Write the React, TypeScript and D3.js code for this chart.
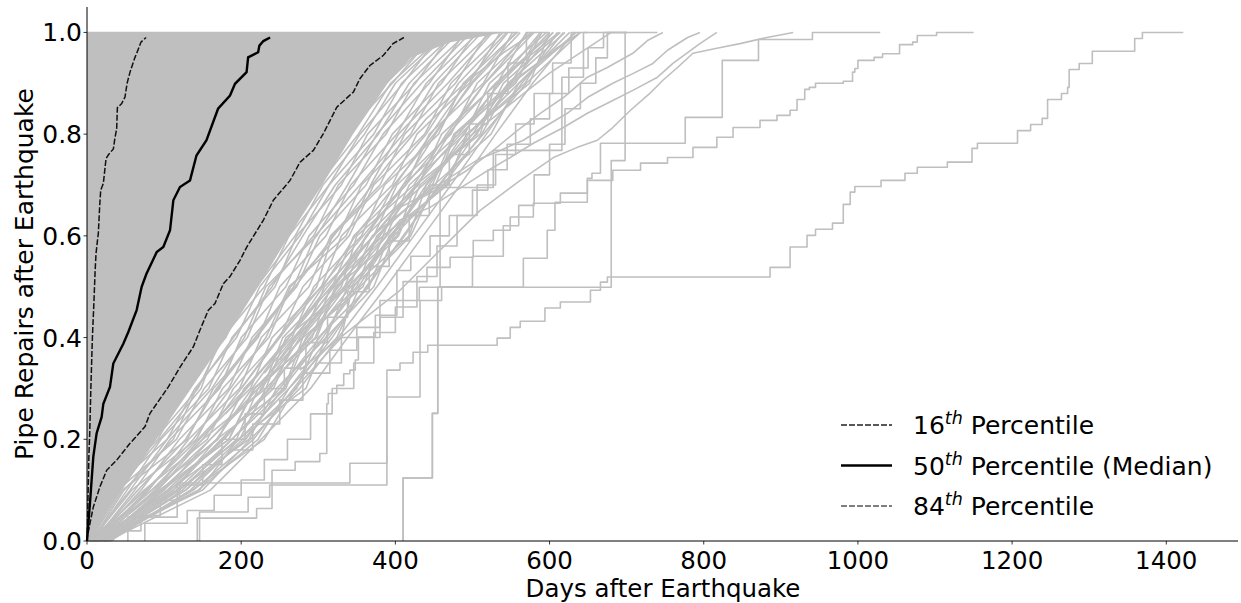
import React from 'react';
import * as d3 from 'd3';

type Pt = [number, number];

// fraction levels at which the dense "mesh" realisations are sampled
const LEVELS = [0, 0.1, 0.2, 0.3, 0.4, 0.5, 0.6, 0.7, 0.8, 0.9, 1.0];

// days at which each dense realisation reaches LEVELS
const meshDays: number[][] = [
  [1, 18, 62, 104, 156, 186, 232, 268, 318, 372, 425],
  [0, 30, 70, 122, 150, 196, 228, 286, 322, 378, 440],
  [3, 16, 80, 118, 168, 204, 244, 280, 338, 384, 446],
  [2, 36, 76, 132, 164, 214, 254, 298, 336, 396, 452],
  [5, 24, 92, 128, 180, 210, 262, 300, 352, 394, 466],
  [0, 44, 88, 144, 176, 230, 262, 314, 354, 410, 460],
  [4, 30, 104, 140, 194, 224, 276, 314, 372, 408, 478],
  [7, 52, 96, 158, 188, 244, 272, 330, 364, 426, 474],
  [2, 40, 116, 152, 208, 236, 294, 326, 388, 424, 494],
  [9, 62, 108, 172, 200, 258, 288, 346, 384, 444, 490],
  [3, 46, 130, 164, 222, 250, 310, 342, 402, 440, 508],
  [11, 70, 120, 184, 214, 272, 302, 362, 396, 460, 504],
  [5, 58, 142, 176, 236, 264, 326, 356, 420, 456, 524],
  [14, 80, 132, 198, 226, 288, 316, 380, 412, 478, 520],
  [6, 74, 156, 190, 250, 280, 340, 372, 438, 472, 540],
  [16, 88, 146, 212, 240, 304, 330, 396, 428, 496, 536],
  [8, 84, 170, 204, 266, 294, 356, 386, 456, 488, 558],
  [19, 100, 160, 228, 254, 318, 346, 414, 444, 514, 552],
  [10, 94, 184, 218, 280, 308, 372, 402, 472, 506, 576],
  [22, 112, 174, 242, 270, 334, 362, 430, 460, 532, 570],
  [12, 106, 198, 232, 296, 322, 388, 418, 490, 522, 596],
  [25, 124, 188, 258, 284, 350, 376, 448, 476, 550, 588],
  [14, 118, 210, 246, 310, 338, 404, 432, 506, 540, 614],
  [28, 134, 202, 272, 300, 366, 392, 466, 494, 568, 610],
  [16, 144, 222, 262, 324, 354, 420, 450, 524, 560, 634],
  [0, 20, 66, 114, 146, 192, 238, 276, 328, 370, 432],
  [2, 28, 84, 120, 176, 200, 248, 292, 330, 388, 456],
  [4, 40, 94, 148, 172, 220, 270, 306, 360, 400, 470],
  [6, 48, 112, 142, 190, 240, 280, 322, 378, 418, 482],
  [3, 56, 104, 162, 204, 232, 298, 338, 376, 434, 498],
  [8, 66, 128, 168, 218, 268, 296, 354, 410, 450, 512],
  [12, 78, 138, 186, 232, 262, 336, 368, 404, 468, 526],
  [5, 92, 150, 200, 248, 298, 318, 384, 440, 482, 544],
  [18, 96, 168, 214, 262, 312, 364, 398, 450, 500, 562],
  [10, 108, 178, 236, 276, 330, 350, 424, 466, 516, 580],
  [20, 120, 194, 222, 292, 316, 384, 410, 482, 536, 600],
  [13, 128, 206, 254, 306, 346, 396, 440, 500, 546, 620],
  [24, 138, 216, 268, 318, 362, 412, 456, 514, 570, 640],
  [6, 90, 160, 222, 270, 320, 362, 410, 452, 498, 556],
  [15, 104, 176, 238, 286, 336, 380, 428, 470, 516, 572],
  [9, 116, 188, 250, 302, 352, 396, 444, 488, 534, 588],
  [21, 128, 198, 262, 314, 364, 410, 458, 504, 550, 604],
  [11, 150, 212, 276, 326, 376, 424, 472, 518, 564, 618],
  [26, 160, 226, 290, 338, 388, 436, 484, 530, 578, 632],
  [4, 84, 150, 232, 258, 340, 370, 452, 478, 556, 590],
  [18, 98, 184, 216, 298, 324, 402, 426, 510, 530, 612],
  [7, 112, 168, 256, 280, 358, 384, 468, 492, 574, 600],
  [30, 136, 230, 270, 330, 344, 418, 440, 494, 560, 626],
  [2, 76, 144, 206, 262, 306, 348, 400, 446, 492, 546],
  [23, 146, 196, 284, 310, 372, 398, 462, 512, 548, 640],
];

// slanted realisations beyond the dense band (day, fraction)
const fanCurves: Pt[][] = [
  [[276, 0.375], [328, 0.473], [380, 0.572], [428, 0.67], [458, 0.695], [493, 0.729], [527, 0.768], [558, 0.807], [588, 0.841], [618, 0.872], [649, 0.912], [675, 0.931], [708, 0.959], [727, 0.984], [747, 1.0]],
  [[250, 0.356], [302, 0.454], [354, 0.552], [406, 0.656], [441, 0.684], [471, 0.715], [506, 0.749], [536, 0.768], [566, 0.788], [592, 0.813], [623, 0.841], [649, 0.872], [682, 0.9], [708, 0.919], [734, 0.939], [753, 0.965], [779, 0.99], [795, 1.0]],
  [[224, 0.297], [276, 0.395], [341, 0.513], [406, 0.631], [445, 0.656], [480, 0.69], [514, 0.723], [549, 0.754], [579, 0.782], [618, 0.813], [649, 0.841], [682, 0.866], [708, 0.886], [740, 0.912], [760, 0.939], [795, 0.978], [817, 1.0]],
  [[276, 0.336], [341, 0.415], [406, 0.493], [458, 0.572], [510, 0.65], [562, 0.709], [605, 0.754], [636, 0.774], [662, 0.788], [682, 0.813], [705, 0.847], [730, 0.88], [747, 0.906], [766, 0.931], [786, 0.959], [817, 0.969], [847, 0.978], [882, 0.99], [916, 1.0]],
  [[200, 0.3], [260, 0.42], [320, 0.53], [380, 0.64], [430, 0.73], [480, 0.82], [530, 0.9], [575, 0.96], [605, 1.0]],
  [[180, 0.25], [240, 0.36], [300, 0.47], [360, 0.58], [410, 0.67], [460, 0.76], [510, 0.84], [560, 0.91], [610, 0.97], [640, 1.0]],
  [[230, 0.33], [290, 0.44], [350, 0.56], [400, 0.65], [450, 0.72], [500, 0.8], [550, 0.86], [600, 0.92], [650, 0.97], [680, 1.0]],
  [[160, 0.28], [220, 0.4], [280, 0.52], [340, 0.64], [390, 0.74], [440, 0.83], [490, 0.9], [540, 0.96], [580, 1.0]],
];

// realisations with few, large repair steps (step-after points: day, fraction)
const stepCurves: Pt[][] = [
  [[146, 0], [146, 0.057], [209, 0.086], [237, 0.11], [389, 0.336], [406, 0.35], [423, 0.371], [442, 0.385], [532, 0.399], [549, 0.42], [562, 0.432], [594, 0.458], [614, 0.47], [653, 0.493], [666, 0.509], [675, 0.519], [886, 0.538], [912, 0.578], [934, 0.601], [945, 0.613], [967, 0.625], [981, 0.662], [990, 0.686], [996, 0.697], [1030, 0.709], [1061, 0.723], [1077, 0.735], [1116, 0.745], [1148, 0.772], [1155, 0.782], [1207, 0.807], [1224, 0.819], [1239, 0.831], [1246, 0.868], [1264, 0.88], [1272, 0.892], [1274, 0.927], [1287, 0.939], [1304, 0.963], [1359, 0.988], [1369, 1.0], [1422, 1.0]],
  [[186, 0.179], [215, 0.23], [250, 0.277], [280, 0.33], [315, 0.375], [350, 0.42], [380, 0.473], [410, 0.51], [441, 0.538], [471, 0.558], [501, 0.591], [527, 0.611], [549, 0.637], [579, 0.664], [614, 0.684], [649, 0.709], [682, 0.729], [718, 0.743], [753, 0.754], [786, 0.774], [817, 0.794], [838, 0.813], [873, 0.827], [895, 0.837], [912, 0.847], [921, 0.868], [931, 0.888], [937, 0.892], [945, 0.9], [981, 0.904], [993, 0.922], [996, 0.929], [1000, 0.945], [1021, 0.951], [1032, 0.958], [1054, 0.976], [1071, 0.981], [1077, 0.994], [1102, 1.0], [1150, 1.0]],
  [[410, 0], [410, 0.124], [448, 0.251], [455, 0.499], [566, 0.556], [597, 0.611], [607, 0.666], [649, 0.713], [655, 0.723], [666, 0.782], [776, 0.833], [824, 0.945], [871, 0.986], [941, 1.0], [1029, 1.0]],
  [[410, 0], [410, 0.124], [448, 0.251], [455, 0.499], [680, 0.748], [698, 1.0], [740, 1.0]],
  [[300, 0.35], [330, 0.4], [380, 0.44], [410, 0.473], [431, 0.499], [458, 0.695], [527, 0.768], [616, 0.912], [644, 1.0], [700, 1.0]],
  [[53, 0], [53, 0.047], [117, 0.114], [341, 0.153], [389, 0.283], [432, 0.473], [460, 0.5], [500, 0.56], [540, 0.62], [560, 0.66], [580, 0.72], [600, 0.78], [620, 0.85], [640, 0.9], [660, 0.95], [675, 1.0], [700, 1.0]],
  [[143, 0], [143, 0.045], [220, 0.064], [240, 0.139], [270, 0.156], [302, 0.172], [311, 0.27], [313, 0.29], [324, 0.306], [333, 0.329], [341, 0.336], [348, 0.356], [352, 0.401], [374, 0.444], [402, 0.532], [420, 0.56], [445, 0.6], [470, 0.64], [500, 0.69], [520, 0.73], [545, 0.78], [575, 0.83], [600, 0.88], [625, 0.93], [650, 0.97], [670, 1.0], [700, 1.0]],
  [[34, 0], [34, 0.02], [70, 0.05], [95, 0.08], [120, 0.11], [150, 0.15], [175, 0.2], [205, 0.25], [230, 0.3], [256, 0.34], [284, 0.39], [312, 0.44], [338, 0.49], [366, 0.54], [392, 0.59], [418, 0.64], [444, 0.7], [470, 0.76], [496, 0.82], [520, 0.88], [546, 0.94], [570, 1.0], [600, 1.0]],
  [[75, 0], [75, 0.035], [130, 0.06], [165, 0.09], [200, 0.12], [230, 0.16], [260, 0.2], [290, 0.25], [318, 0.3], [346, 0.35], [372, 0.41], [400, 0.46], [428, 0.52], [454, 0.58], [480, 0.64], [506, 0.7], [530, 0.76], [556, 0.82], [580, 0.88], [604, 0.94], [628, 1.0], [650, 1.0]],
];

// right edge of the fully saturated band of overlapping realisations
const solidEdge: Pt[] = [
  [0, 0], [10, 0.03], [25, 0.06], [45, 0.1], [90, 0.2], [135, 0.3], [180, 0.4], [222, 0.5], [262, 0.6],
  [305, 0.7], [345, 0.8], [390, 0.9], [420, 0.95], [470, 0.98], [540, 1.0],
];

const p16: Pt[] = [
  [0, 0], [0.5, 0.02], [1.5, 0.1], [2.5, 0.17], [3.5, 0.21], [5, 0.3], [7, 0.4], [9, 0.47], [10.5, 0.53],
  [11.7, 0.565], [13.5, 0.59], [14.7, 0.605], [16.5, 0.66], [17.8, 0.69], [21.2, 0.703], [24.7, 0.752],
  [28, 0.76], [34.2, 0.771], [36, 0.79], [38.5, 0.811], [39.4, 0.852], [45, 0.86], [49.3, 0.873],
  [52, 0.9], [55.8, 0.922], [62, 0.95], [66, 0.965], [70, 0.981], [76.6, 0.99],
];
const p50: Pt[] = [
  [0, 0], [0.4, 0.008], [2, 0.04], [3.9, 0.075], [6, 0.12], [8.2, 0.166], [12.5, 0.212], [19, 0.244],
  [21.2, 0.27], [29.8, 0.303], [34.1, 0.349], [47.1, 0.388], [53.6, 0.411], [64.4, 0.454], [70.9, 0.5],
  [77, 0.525], [90.4, 0.568], [99, 0.578], [107.7, 0.611], [112, 0.67], [120.6, 0.696], [133.6, 0.709],
  [142, 0.758], [155, 0.788], [170, 0.85], [185.5, 0.876], [192, 0.899], [207, 0.922], [209, 0.951],
  [222, 0.961], [223.6, 0.974], [228.8, 0.983], [237.5, 0.99],
];
const p84: Pt[] = [
  [0, 0], [0.4, 0.008], [3.9, 0.035], [8.2, 0.067], [16.9, 0.107], [25.5, 0.139], [38.5, 0.159],
  [55.8, 0.192], [75.3, 0.225], [81.7, 0.251], [105.5, 0.303], [120.7, 0.342], [138, 0.382],
  [146.6, 0.415], [157.4, 0.454], [166, 0.467], [176.9, 0.506], [185.5, 0.52], [198.5, 0.552],
  [207.2, 0.578], [228.8, 0.631], [241.7, 0.67], [263.4, 0.709], [276.4, 0.745], [293.6, 0.768],
  [306.6, 0.801], [324, 0.853], [345.6, 0.883], [354, 0.909], [367, 0.935], [384.5, 0.955],
  [397, 0.978], [411, 0.99],
];

const X_TICKS = [0, 200, 400, 600, 800, 1000, 1200, 1400];
const Y_TICKS = [0, 0.2, 0.4, 0.6, 0.8, 1.0];

const legendItems = [
  { num: '16', rest: ' Percentile', dash: '6,2', color: '#222', width: 1.4 },
  { num: '50', rest: ' Percentile (Median)', dash: '', color: '#000', width: 2.4 },
  { num: '84', rest: ' Percentile', dash: '6,2', color: '#555', width: 1.4 },
];

const GRAY = '#bfbfbf';
const FONT = 'DejaVu Sans, sans-serif';

export default function App() {
  const W = 1241;
  const H = 603;
  const x = d3.scaleLinear().domain([0, 1493]).range([87, 1238]);
  const y = d3.scaleLinear().domain([0, 1.05]).range([541, 7]);

  const lin = d3.line<Pt>().x((d) => x(d[0])).y((d) => y(d[1]));
  const step = d3.line<Pt>().x((d) => x(d[0])).y((d) => y(d[1])).curve(d3.curveStepAfter);
  const band = d3
    .area<Pt>()
    .x0(() => x(0))
    .x1((d) => x(d[0]))
    .y((d) => y(d[1]));

  const meshPts: Pt[][] = meshDays.map((days) => days.map((dd, i) => [dd, LEVELS[i]] as Pt));

  return (
    <svg
      width={W}
      height={H}
      style={{ position: 'absolute', left: 0, top: 0, background: '#fff' }}
      fontFamily={FONT}
    >
      <rect x={0} y={0} width={W} height={H} fill="#fff" />
      <path d={band(solidEdge) || ''} fill={GRAY} stroke="none" />
      <g fill="none" stroke={GRAY} strokeWidth={1.6} strokeLinejoin="round">
        {meshPts.map((c, i) => (
          <path key={'m' + i} d={lin(c) || ''} />
        ))}
        {fanCurves.map((c, i) => (
          <path key={'f' + i} d={lin(c) || ''} />
        ))}
        {stepCurves.map((c, i) => (
          <path key={'s' + i} d={step(c) || ''} />
        ))}
        <path d={lin([[0, 1.0], [560, 1.0]]) || ''} />
      </g>
      <path d={lin(p16) || ''} fill="none" stroke="#111" strokeWidth={1.5} strokeDasharray="6,2" />
      <path d={lin(p84) || ''} fill="none" stroke="#111" strokeWidth={1.5} strokeDasharray="6,2" />
      <path d={lin(p50) || ''} fill="none" stroke="#000" strokeWidth={2.4} />

      {/* axes */}
      <line x1={x(0)} x2={x(0)} y1={y(1.05)} y2={y(0)} stroke="#000" strokeWidth={1} />
      <line x1={x(0)} x2={x(1493)} y1={y(0)} y2={y(0)} stroke="#000" strokeWidth={1} />
      {Y_TICKS.map((t) => (
        <g key={'yt' + t}>
          <line x1={x(0) - 3.5} x2={x(0)} y1={y(t)} y2={y(t)} stroke="#000" strokeWidth={0.8} />
          <text x={x(0) - 5} y={y(t)} dy="0.36em" textAnchor="end" fontSize={25} fill="#000">
            {t.toFixed(1)}
          </text>
        </g>
      ))}
      {X_TICKS.map((t) => (
        <g key={'xt' + t}>
          <line x1={x(t)} x2={x(t)} y1={y(0)} y2={y(0) + 3.5} stroke="#000" strokeWidth={0.8} />
          <text x={x(t)} y={569} textAnchor="middle" fontSize={24.5} fill="#000">
            {t}
          </text>
        </g>
      ))}
      <text x={663} y={596.5} textAnchor="middle" fontSize={24.5} fill="#000">
        Days after Earthquake
      </text>
      <text
        transform={`translate(33, ${(y(0) + y(1.05)) / 2}) rotate(-90)`}
        textAnchor="middle"
        fontSize={25}
        fill="#000"
      >
        Pipe Repairs after Earthquake
      </text>

      {/* legend */}
      {legendItems.map((it, i) => {
        const cy = 425 + i * 40.5;
        return (
          <g key={'lg' + i}>
            <line
              x1={841}
              x2={892}
              y1={cy}
              y2={cy}
              stroke={it.color}
              strokeWidth={it.width}
              strokeDasharray={it.dash || undefined}
            />
            <text x={913} y={cy + 9} fontSize={25} fill="#000">
              {it.num}
              <tspan fontStyle="italic" fontSize={17.5} dy={-10}>
                th
              </tspan>
              <tspan dy={10}>{it.rest}</tspan>
            </text>
          </g>
        );
      })}
    </svg>
  );
}
